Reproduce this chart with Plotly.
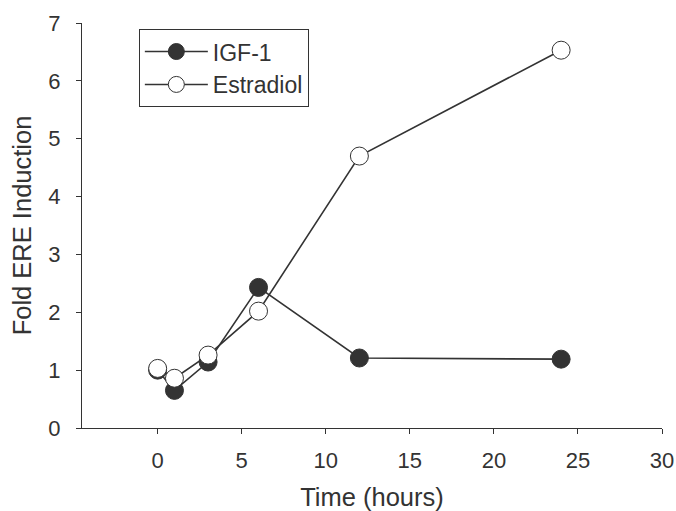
import plotly.graph_objects as go

time_igf = [0, 1, 3, 6, 12, 24]
igf1 = [1.0, 0.65, 1.14, 2.43, 1.21, 1.19]
time_e2 = [0, 1, 3, 6, 12, 24]
estradiol = [1.03, 0.86, 1.26, 2.02, 4.70, 6.53]

x_ticks = [0, 5, 10, 15, 20, 25, 30]
y_ticks = [0, 1, 2, 3, 4, 5, 6, 7]

dark = "#333333"
font_family = "Liberation Sans, Arial, sans-serif"

fig = go.Figure()
fig.add_trace(go.Scatter(
    x=time_igf, y=igf1, name="IGF-1", mode="lines+markers",
    line=dict(color=dark, width=1.6),
    marker=dict(symbol="circle", size=18, color=dark, line=dict(color=dark, width=1)),
    cliponaxis=False,
))
fig.add_trace(go.Scatter(
    x=time_e2, y=estradiol, name="Estradiol", mode="lines+markers",
    line=dict(color=dark, width=1.6),
    marker=dict(symbol="circle", size=18, color="white", line=dict(color=dark, width=1)),
    cliponaxis=False,
))

fig.update_layout(
    width=676, height=511,
    margin=dict(l=82, r=14, t=23, b=83, autoexpand=False),
    paper_bgcolor="white", plot_bgcolor="white",
    font=dict(family=font_family, color=dark, size=20),
    showlegend=True,
    legend=dict(
        x=0.098, y=0.985, xanchor="left", yanchor="top",
        bordercolor=dark, borderwidth=1, bgcolor="white",
        font=dict(size=23, color=dark),
        itemwidth=63, tracegroupgap=2,
    ),
    xaxis=dict(
        range=[-4.5, 30], tickvals=x_ticks, ticktext=[str(v) for v in x_ticks],
        showline=True, linecolor=dark, linewidth=1.2,
        ticks="outside", ticklen=5, tickcolor=dark, tickwidth=1.2,
        showgrid=False, zeroline=False, automargin=False,
        tickfont=dict(size=22, color=dark), ticklabelstandoff=7,
        title=dict(text="Time (hours)", font=dict(size=25.5, color=dark), standoff=21),
    ),
    yaxis=dict(
        range=[0, 7], tickvals=y_ticks, ticktext=[str(v) for v in y_ticks],
        showline=True, linecolor=dark, linewidth=1.2,
        ticks="outside", ticklen=5, tickcolor=dark, tickwidth=1.2,
        showgrid=False, zeroline=False, automargin=False,
        tickfont=dict(size=22, color=dark), ticklabelstandoff=11,
        title=dict(text="Fold ERE Induction", font=dict(size=25.5, color=dark), standoff=9),
    ),
)

# remove the page's default 8px body margin so the figure sits at the window origin
fig.write_html(
    "out.html",
    config={"displayModeBar": False},
    post_script="document.body.style.margin='0';document.body.style.overflow='hidden';",
)
